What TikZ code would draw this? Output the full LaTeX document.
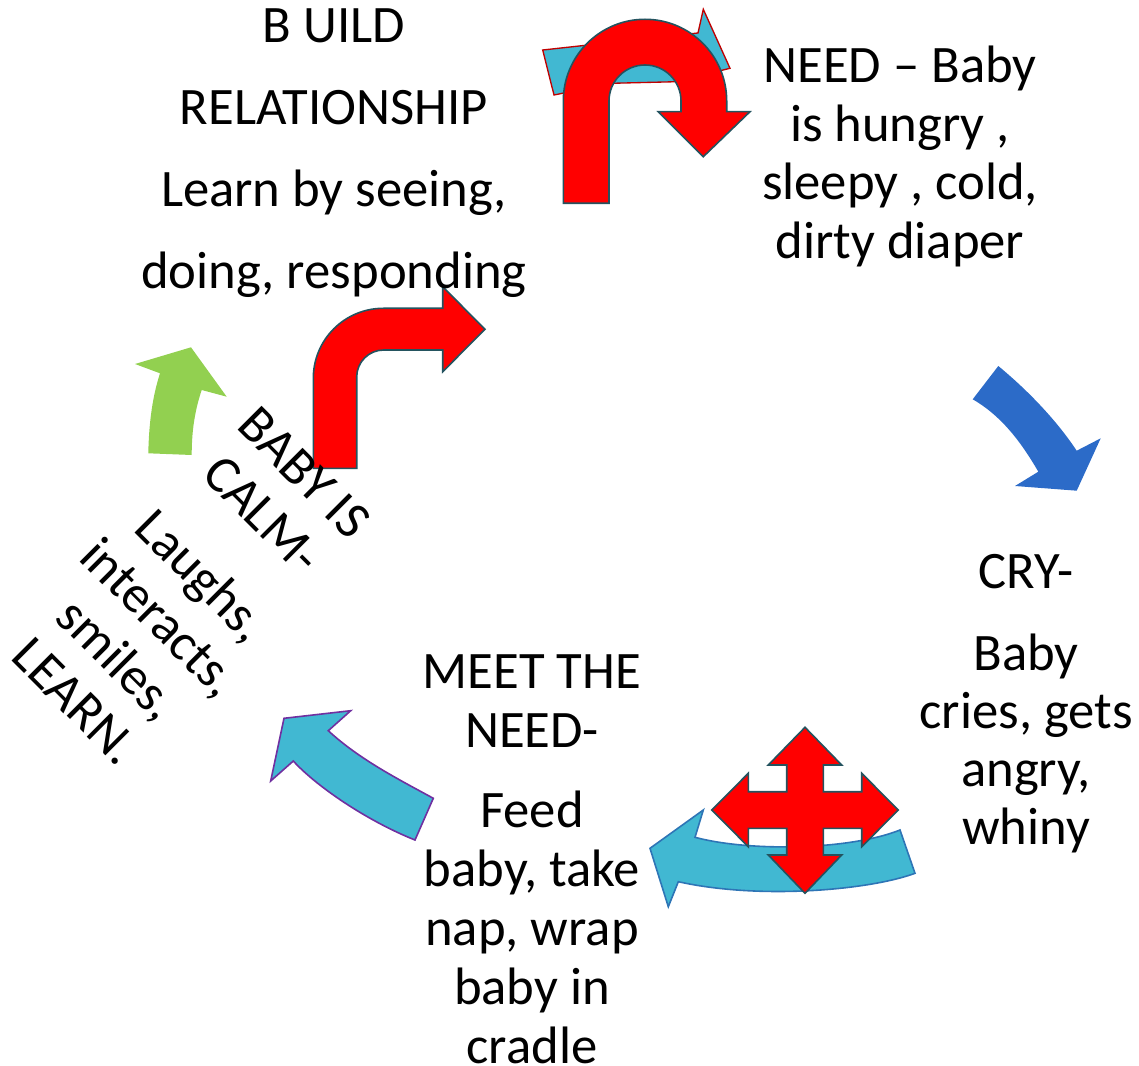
\documentclass[tikz,border=0pt]{standalone}
\usepackage{fontspec}
\setmainfont{Carlito}
\usepackage{tikz}
\definecolor{ArrowRed}{HTML}{FF0000}
\definecolor{EdgeTeal}{HTML}{24535F}
\definecolor{SkyCyan}{HTML}{41B8D2}
\definecolor{EdgeBlue}{HTML}{2E75B6}
\definecolor{EdgePurple}{HTML}{7030A0}
\definecolor{EdgeRed}{HTML}{C00000}
\definecolor{LeafGreen}{HTML}{92D050}
\definecolor{RoyalBlue}{HTML}{2C6BC8}

\begin{document}
\begin{tikzpicture}[
    x=0.75pt, y=-0.75pt,
    redarrow/.style={fill=ArrowRed, draw=EdgeTeal, line width=1.2pt, line join=miter},
    cyanarrow/.style={fill=SkyCyan, line width=1.2pt, line join=miter},
    blurb/.style={inner sep=0pt, align=center, anchor=north, text=black}
]
\useasboundingbox (0,0) rectangle (1139,1066);

\draw[cyanarrow, draw=EdgeRed, line width=1pt] (542.7,50) -- (698,33) -- (703.3,9.3) -- (730,68.3) -- (676.7,81.7) -- (611.7,83.3) -- (554,95) -- cycle;
\draw[redarrow] (563.3,203.3) -- (563.3,101) arc[start angle=180, end angle=360, radius=81.7] -- (726.7,111.7) -- (750,111.7) -- (703.3,156.7) -- (658.3,111.7) -- (681,111.7) -- (681,101) arc[start angle=0, end angle=-180, radius=36] -- (609,203.3) -- cycle;

\draw[redarrow] (313.3,468.3) -- (313.3,378.3) arc[start angle=180, end angle=270, radius=70] -- (442.7,308.3) -- (442.7,286.7) -- (485,329.3) -- (442.7,371.7) -- (442.7,350) -- (383.7,350) arc[start angle=270, end angle=180, radius=27] -- (356.7,468.3) -- cycle;

\fill[LeafGreen] (148.3,453.3) .. controls (149,420) and (153,395) .. (160,373.3) -- (135,364) -- (191,347.3) -- (226.7,396.7) -- (201.7,390) .. controls (195,410) and (191.7,430) .. (191.7,455) -- cycle;

\fill[RoyalBlue] (972.7,399.3) -- (998.3,366) .. controls (1025,388) and (1055,418) .. (1076.7,450.7) -- (1100.7,438.3) -- (1076.7,490.7) -- (1015,486) -- (1038.3,471.7) .. controls (1020,440) and (1000,415) .. (972.7,399.3) -- cycle;

\draw[cyanarrow, draw=EdgeBlue] (900,830) -- (915,873.3) .. controls (870,890) and (760,900) .. (678.3,881.7) -- (668.3,906.7) -- (650,848.3) -- (703.3,810) -- (695,837.3) .. controls (750,852) and (850,850) .. (900,830) -- cycle;
\draw[redarrow] (805,727.3) -- (841.7,765) -- (823.3,765) -- (823.3,791.7) -- (861.7,791.7) -- (861.7,773.3) -- (898.3,810) -- (861.7,846.7) -- (861.7,828.3) -- (823.3,828.3) -- (823.3,855) -- (841.7,855) -- (805,893.3) -- (768.3,855) -- (786.7,855) -- (786.7,828.3) -- (748.3,828.3) -- (748.3,846.7) -- (711.7,810) -- (748.3,773.3) -- (748.3,791.7) -- (786.7,791.7) -- (786.7,765) -- (768.3,765) -- cycle;

\draw[cyanarrow, draw=EdgePurple] (433.3,798.3) .. controls (400,780) and (360,760) .. (328.3,730.7) -- (350.7,710.7) -- (284,718.3) -- (270.7,781) -- (293.3,761) .. controls (315,785) and (365,820) .. (415,840) -- cycle;

\node[blurb, font=\fontsize{39.5}{61.5}\selectfont] (build) at (334,8) {B UILD\\RELATIONSHIP\\Learn by seeing,\\doing, responding};
\node[blurb, font=\fontsize{39.5}{43.9}\selectfont] (need) at (900,46) {NEED – Baby\\is hungry ,\\sleepy , cold,\\dirty diaper};
\node[blurb, font=\fontsize{39.5}{43.5}\selectfont] (cry) at (1026,554) {CRY-\\[18pt]Baby\\cries, gets\\angry,\\whiny};
\node[blurb, font=\fontsize{39.5}{44.25}\selectfont] (meet) at (532,654) {MEET THE\\NEED-\\[16pt]Feed\\baby, take\\nap, wrap\\baby in\\cradle};
\node[blurb, anchor=center, rotate=-45, font=\fontsize{39.5}{44.5}\selectfont] (calm) at (190,587) {BABY IS\\CALM-\\[20pt]Laughs,\\interacts,\\smiles,\\LEARN.};
\end{tikzpicture}
\end{document}
